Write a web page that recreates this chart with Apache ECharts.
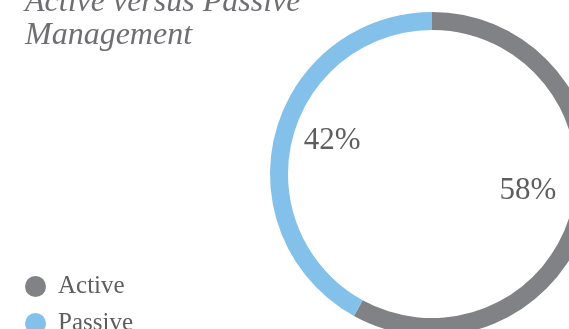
<!DOCTYPE html>
<html>
<head>
<meta charset="utf-8">
<script src="https://cdn.jsdelivr.net/npm/echarts@6/dist/echarts.min.js"></script>
<style>html,body{margin:0;padding:0;background:#fff;}#c{width:569px;height:329px;}</style>
</head>
<body>
<div id="c"></div>
<script>
var categories = ['Active', 'Passive'];
var values = [58, 42];
var colors = ['#818286', '#83c0ea'];
var titleText = 'Active versus Passive\nManagement';

var chart = echarts.init(document.getElementById('c'), null, {renderer: 'canvas'});
var serif = '"Liberation Serif", "DejaVu Serif", serif';
var data = categories.map(function (n, i) { return {name: n, value: values[i], itemStyle: {color: colors[i]}}; });
var labelData = categories.map(function (n, i) { return {name: n, value: values[i]}; });

chart.setOption({
  animation: false,
  title: {
    text: titleText,
    left: 25, top: -14, padding: 0,
    textStyle: {fontFamily: serif, fontStyle: 'italic', fontWeight: 'normal', fontSize: 32, lineHeight: 33, color: '#6f6f73'}
  },
  legend: {
    orient: 'vertical', left: 25, top: 274, height: 120, padding: 0,
    icon: 'circle', itemWidth: 21, itemHeight: 21, itemGap: 12,
    data: categories,
    textStyle: {fontFamily: serif, fontSize: 25, color: '#5e5e5e', padding: [0, 0, 0, 7]}
  },
  series: [
    {
      type: 'pie', center: [432, 174], radius: [144, 162],
      startAngle: 90, clockwise: true,
      label: {show: false}, labelLine: {show: false},
      emphasis: {disabled: true},
      data: data
    },
    {
      type: 'pie', center: [430, 166], radius: [0, 196],
      startAngle: 90, clockwise: true, silent: true,
      itemStyle: {color: 'rgba(0,0,0,0)'},
      emphasis: {disabled: true},
      label: {show: true, position: 'inside', formatter: '{d}%', fontFamily: serif, fontSize: 31, color: '#5e5e5e'},
      labelLine: {show: false},
      data: labelData
    }
  ]
});
</script>
</body>
</html>
